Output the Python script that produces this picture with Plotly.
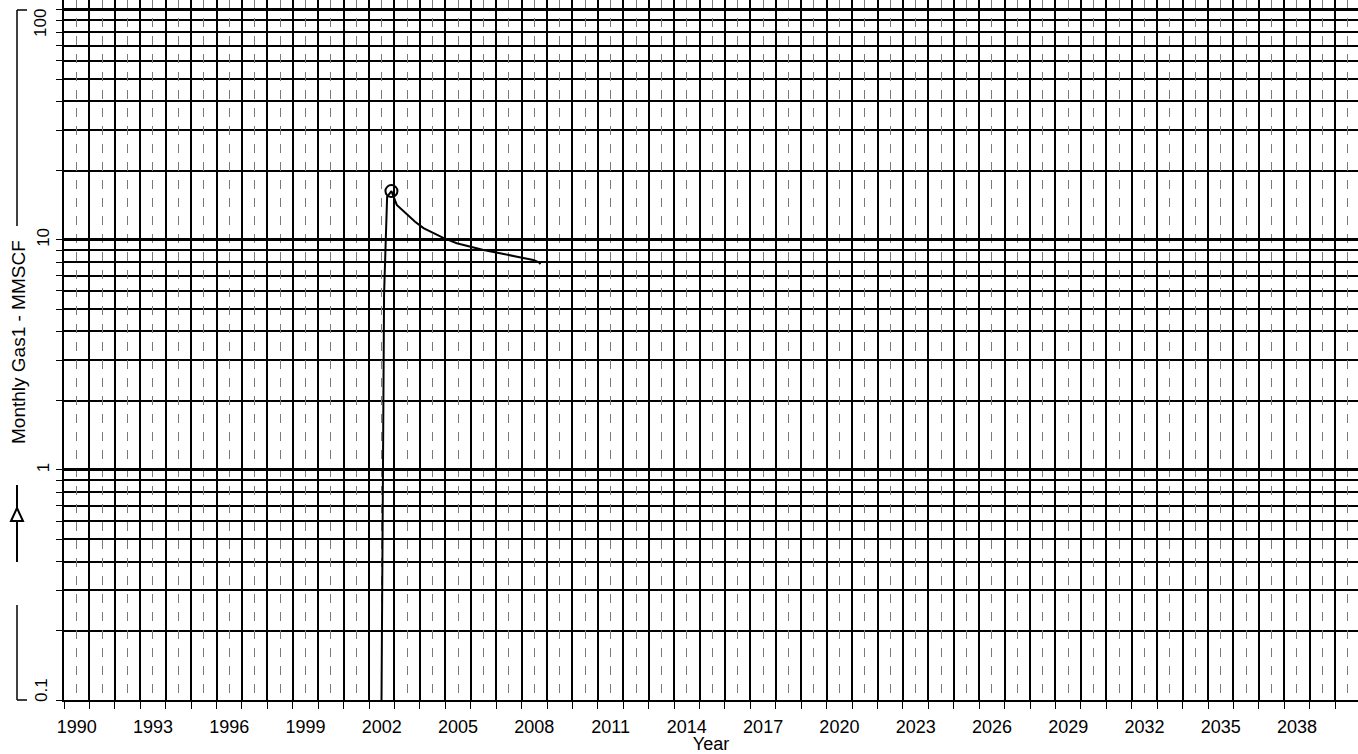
import plotly.graph_objects as go

# ---- axis / tick data ----
year_lines = list(range(1990, 2041))            # thick yearly grid lines
half_year_lines = [y + 0.5 for y in range(1990, 2041)]  # dashed mid-year lines (label positions)
label_years = list(range(1990, 2039, 3))        # years that carry a label
x_range = [1990, 2040.9]

decade_vals = [0.1, 1, 10, 100]
decade_text = ["0.1", "1", "10", "100"]
sub_decade_vals = [0.2, 0.3, 0.4, 0.5, 0.6, 0.7, 0.8, 0.9,
                   2, 3, 4, 5, 6, 7, 8, 9,
                   20, 30, 40, 50, 60, 70, 80, 90]
y_log_range = [-1, 2.043]

# ---- series ----
gas_year = [2002.45, 2002.59, 2002.71, 2002.88, 2003.09, 2003.48, 2003.81,
            2004.14, 2004.53, 2004.92, 2005.45, 2005.84, 2006.5,
            2007.15, 2007.81, 2008.46, 2008.68, 2008.74]
gas_rate = [0.02, 5.8, 15.4, 16.3, 14.2, 12.9, 12.0,
            11.25, 10.7, 10.2, 9.68, 9.42, 9.05,
            8.75, 8.46, 8.18, 8.0, 7.85]
peak_year = [2002.88]
peak_rate = [16.3]

y_title = "Monthly Gas1 - MMSCF"
x_title = "Year"

tick_text = [str(int(v - 0.5)) if int(v - 0.5) in label_years else "" for v in half_year_lines]
# end labels (100 and 0.1) are placed inside the axis span as in the reference
y_tick_text = ["" if t in ("0.1", "100") else t for t in decade_text]

fig = go.Figure()
fig.add_trace(go.Scatter(x=gas_year, y=gas_rate, mode="lines",
                         line=dict(color="black", width=2), hoverinfo="skip"))
fig.add_trace(go.Scatter(x=peak_year, y=peak_rate, mode="markers",
                         marker=dict(symbol="circle-open", size=12, color="black",
                                     line=dict(width=2, color="black"))))

W, H = 1358, 754
L, R, T, B = 64, 0, 0, 54
pw, ph = W - L - R, H - T - B

def px(xpix):
    return (xpix - L) / pw

def py(ypix):
    return (T + ph - ypix) / ph

annotations = [
    dict(text=y_title, xref="paper", yref="paper", x=px(18), y=py(342),
         textangle=-90, showarrow=False, xanchor="center", yanchor="middle",
         font=dict(size=19)),
    dict(text=decade_text[3], xref="paper", yref="y", x=px(41), y=2,
         textangle=-90, showarrow=False, xanchor="center", yanchor="middle",
         yshift=-13, font=dict(size=17)),
    dict(text=decade_text[0], xref="paper", yref="y", x=px(41), y=-1,
         textangle=-90, showarrow=False, xanchor="center", yanchor="middle",
         yshift=10, font=dict(size=17)),
]

fig.update_layout(
    width=W, height=H,
    margin=dict(l=L, r=R, t=T, b=B, autoexpand=False),
    plot_bgcolor="white", paper_bgcolor="white",
    showlegend=False,
    font=dict(family="Liberation Sans, Arial, sans-serif", color="black", size=18),
    xaxis=dict(
        range=x_range, tickmode="array", tickvals=half_year_lines, ticktext=tick_text,
        ticks="", ticklabelstandoff=9, automargin=False,
        showgrid=True, gridcolor="#7a7a7a", gridwidth=1, griddash="dash",
        showline=True, linecolor="black", linewidth=2, zeroline=False,
        tickfont=dict(size=18),
        minor=dict(tickmode="array", tickvals=year_lines, showgrid=True,
                   gridcolor="black", gridwidth=2, griddash="solid",
                   ticks="outside", ticklen=7, tickwidth=1, tickcolor="black"),
        title=dict(text=x_title, standoff=1, font=dict(size=18)),
    ),
    yaxis=dict(
        type="log", range=y_log_range, tickmode="array", tickvals=decade_vals,
        ticktext=y_tick_text, tickangle=-90, ticks="outside", ticklen=6,
        tickcolor="black", tickwidth=1, ticklabelstandoff=0, automargin=False,
        showgrid=True, gridcolor="black", gridwidth=2.5,
        showline=True, linecolor="black", linewidth=2, zeroline=False,
        tickfont=dict(size=17),
        minor=dict(tickmode="array", tickvals=sub_decade_vals, showgrid=True,
                   gridcolor="black", gridwidth=1.5, griddash="solid",
                   ticks="outside", ticklen=6, tickwidth=1, tickcolor="black"),
    ),
    annotations=annotations,
)

line_style = dict(color="black", width=1.5)
shapes = [
    # bracket top part
    dict(type="line", xref="paper", yref="paper", x0=px(17), x1=px(17), y0=py(10), y1=py(226), line=line_style),
    dict(type="line", xref="paper", yref="paper", x0=px(17), x1=px(27), y0=py(10), y1=py(10), line=line_style),
    # legend symbol line
    dict(type="line", xref="paper", yref="paper", x0=px(17), x1=px(17), y0=py(485), y1=py(562), line=dict(color="black", width=2)),
    # triangle marker
    dict(type="path", xref="paper", yref="paper",
         path=f"M {px(17)} {py(508)} L {px(23)} {py(521)} L {px(11)} {py(521)} Z",
         fillcolor="white", line=dict(color="black", width=2)),
    # bracket bottom part
    dict(type="line", xref="paper", yref="paper", x0=px(17), x1=px(17), y0=py(605), y1=py(700), line=line_style),
    dict(type="line", xref="paper", yref="paper", x0=px(17), x1=px(27), y0=py(700), y1=py(700), line=line_style),
]
fig.update_layout(shapes=shapes)

fig.write_html("out.html", config={"displayModeBar": False},
               post_script="document.body.style.margin='0px';")
